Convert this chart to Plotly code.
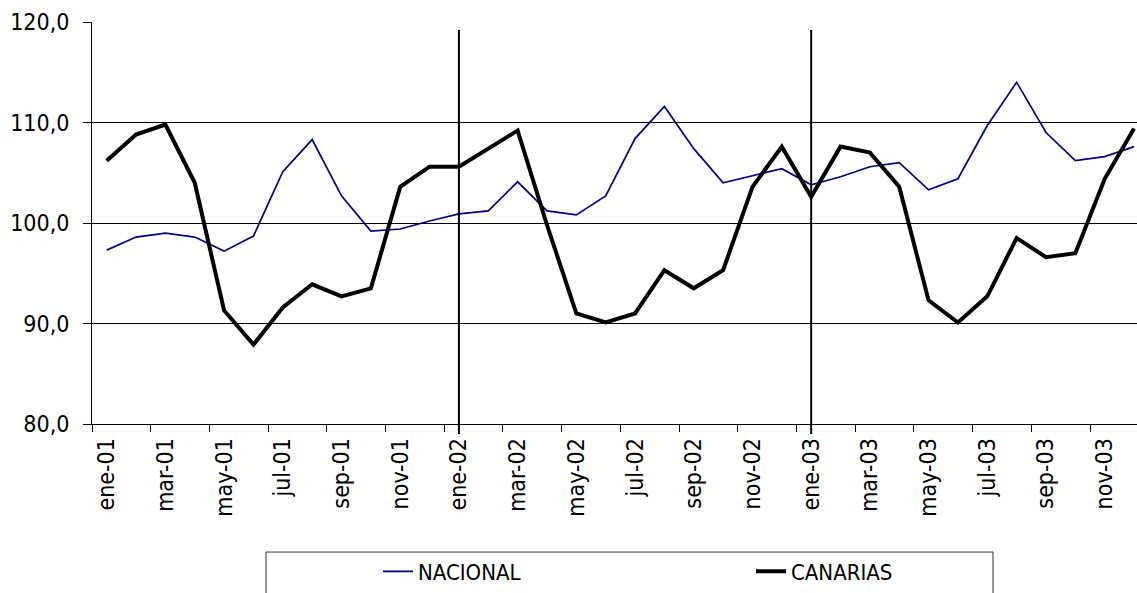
import plotly.graph_objects as go

months = ["ene", "feb", "mar", "abr", "may", "jun", "jul", "ago", "sep", "oct", "nov", "dic"]
years = ["01", "02", "03"]
categories = [f"{m}-{y}" for y in years for m in months]

nacional = [97.3, 98.6, 99.0, 98.6, 97.2, 98.7, 105.1, 108.3, 102.7, 99.2, 99.4, 100.2,
            100.9, 101.2, 104.1, 101.2, 100.8, 102.7, 108.4, 111.6, 107.4, 104.0, 104.7, 105.4,
            103.8, 104.6, 105.6, 106.0, 103.3, 104.4, 109.7, 114.0, 109.0, 106.2, 106.6, 107.6]

canarias = [106.2, 108.8, 109.8, 104.0, 91.3, 87.9, 91.6, 93.9, 92.7, 93.5, 103.6, 105.6,
            105.6, 107.4, 109.2, 99.8, 91.0, 90.1, 91.0, 95.3, 93.5, 95.3, 103.6, 107.6,
            102.6, 107.6, 107.0, 103.6, 92.3, 90.1, 92.7, 98.5, 96.6, 97.0, 104.4, 109.4]

year_starts = ["ene-02", "ene-03"]
tick_labels = categories[::2]

FONT = "DejaVu Sans Condensed, DejaVu Sans, sans-serif"

x = list(range(len(categories)))

fig = go.Figure()
fig.add_trace(go.Scatter(x=x, y=nacional, mode="lines", name="NACIONAL",
                         line=dict(color="#000080", width=1.7)))
fig.add_trace(go.Scatter(x=x, y=canarias, mode="lines", name="CANARIAS",
                         line=dict(color="#000000", width=4)))

for ys in year_starts:
    xi = categories.index(ys)
    fig.add_shape(type="line", xref="x", yref="paper", x0=xi, x1=xi, y0=-0.025, y1=0.98,
                  line=dict(color="black", width=2))

# legend frame
fig.add_shape(type="rect", xref="paper", yref="paper",
              x0=(266 - 92) / 1045, x1=(993 - 92) / 1045, y0=-0.3185, y1=-0.45,
              line=dict(color="#333333", width=1), fillcolor="rgba(0,0,0,0)")

fig.update_layout(
    width=1137, height=593,
    margin=dict(l=92, r=0, t=22, b=166),
    paper_bgcolor="white", plot_bgcolor="white",
    separators=",.",
    font=dict(family=FONT, size=23, color="black"),
    showlegend=True,
    legend=dict(orientation="h", x=(378 - 92) / 1045, xanchor="left",
                y=-0.367, yanchor="middle", entrywidth=328, entrywidthmode="pixels",
                font=dict(family=FONT, size=22, color="black"),
                bgcolor="rgba(0,0,0,0)", borderwidth=0),
    xaxis=dict(range=[-0.5, 35.1], tickmode="array",
               tickvals=[categories.index(t) for t in tick_labels], ticktext=tick_labels,
               tickangle=-90, ticks="", showgrid=False, zeroline=False,
               showline=True, linecolor="black", linewidth=1,
               ticklabelstandoff=4,
               minor=dict(ticks="outside", ticklen=7, tick0=-0.5, dtick=2,
                          tickcolor="black", tickwidth=1, showgrid=False)),
    yaxis=dict(range=[80, 120], tickmode="linear", tick0=80, dtick=10, tickformat=".1f",
               ticks="outside", ticklen=8, tickcolor="black",
               showline=True, linecolor="black", linewidth=1,
               showgrid=True, gridcolor="black", gridwidth=1, zeroline=False,
               ticklabelstandoff=9),
)

fig.write_html("out.html", config={"displayModeBar": False},
               post_script="document.body.style.margin='0';")
